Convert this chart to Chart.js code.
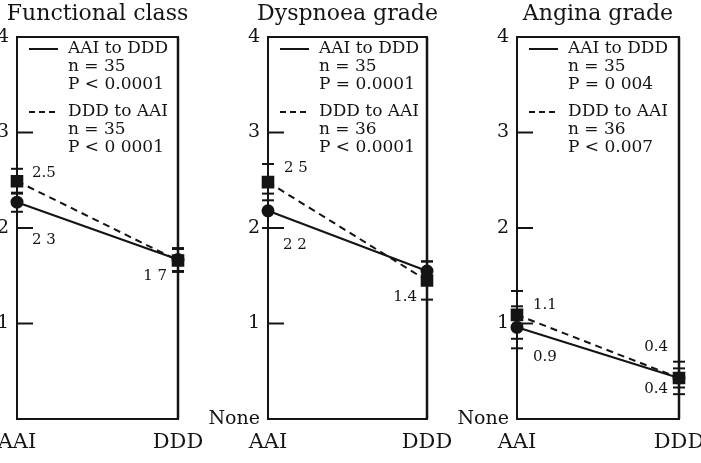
<!DOCTYPE html>
<html>
<head>
<meta charset="utf-8">
<script src="https://cdn.jsdelivr.net/npm/chart.js@4.4.0/dist/chart.umd.min.js"></script>
<style>
  html, body { margin: 0; padding: 0; background: #fff; }
  #wrap { position: relative; width: 701px; height: 463px; overflow: hidden; background: #fff; }
  #wrap canvas { position: absolute; top: 0; }
</style>
</head>
<body>
<div id="wrap">
  <canvas id="c0"></canvas>
  <canvas id="c1"></canvas>
  <canvas id="c2"></canvas>
</div>
<script>
const categories = ['AAI', 'DDD'];
const panelTitles = ['Functional class', 'Dyspnoea grade', 'Angina grade'];
const yTickLabels = [
    ['', '1', '2', '3', '4'],
    ['None', '1', '2', '3', '4'],
    ['None', '1', '2', '3', '4']
];
const seriesNames = ['AAI to DDD', 'DDD to AAI'];

// mean grade in each mode, one row per panel
const aaiToDdd = [[2.27, 1.67], [2.18, 1.55], [0.96, 0.43]];
const dddToAai = [[2.49, 1.66], [2.48, 1.45], [1.09, 0.43]];
// half length of the error bars
const aaiToDddErr = [[0.10, 0.12], [0.18, 0.10], [0.22, 0.10]];
const dddToAaiErr = [[0.13, 0.12], [0.19, 0.20], [0.25, 0.17]];

const aaiToDddStats = [['n = 35', 'P < 0.0001'], ['n = 35', 'P = 0.0001'], ['n = 35', 'P = 0 004']];
const dddToAaiStats = [['n = 35', 'P < 0 0001'], ['n = 36', 'P < 0.0001'], ['n = 36', 'P < 0.007']];

// numbers printed next to the points
const valueLabels = [
    ['2.5', '2 3', '1 7'],
    ['2 5', '2 2', '1.4'],
    ['1.1', '0.9', '0.4', '0.4']
];

// where those numbers sit: [category index, y value, x offset px]
const labelSpots = [
    [[0, 2.57, 15], [0, 1.87, 15], [1, 1.50, -11]],
    [[0, 2.63, 16], [0, 1.82, 15], [1, 1.28, -10]],
    [[0, 1.19, 16], [0, 0.65, 16], [1, 0.75, -11], [1, 0.31, -11]]
];

// plot box edges on the page
const plotLeft = [17, 268, 517];
const plotRight = [178, 427, 679];

const serif = '"DejaVu Serif", "Liberation Serif", serif';
const ink = '#141414';

function hline(ctx, x1, x2, y) {
    ctx.beginPath();
    ctx.moveTo(x1, y);
    ctx.lineTo(x2, y);
    ctx.stroke();
}

const decor = {
    id: 'decor',
    beforeDatasetsDraw(chart) {
        const p = chart.options.plugins.decor.panel;
        const ctx = chart.ctx, xs = chart.scales.x, ys = chart.scales.y;
        const a = chart.chartArea;
        ctx.save();
        ctx.strokeStyle = ink;
        ctx.lineWidth = 2;

        // ticks point into the box
        [1, 2, 3].forEach(v => hline(ctx, a.left, a.left + 16, ys.getPixelForValue(v)));

        // box
        ctx.strokeRect(a.left, a.top, a.right - a.left, a.bottom - a.top);
        ctx.lineWidth = 2.5;
        ctx.beginPath();
        ctx.moveTo(a.right, a.top);
        ctx.lineTo(a.right, a.bottom);
        ctx.stroke();

        // error bars
        ctx.lineWidth = 2;
        [[aaiToDdd, aaiToDddErr], [dddToAai, dddToAaiErr]].forEach(([vals, errs]) => {
            vals[p].forEach((v, i) => {
                const px = xs.getPixelForValue(i);
                const top = ys.getPixelForValue(v + errs[p][i]);
                const bot = ys.getPixelForValue(v - errs[p][i]);
                ctx.beginPath();
                ctx.moveTo(px, top);
                ctx.lineTo(px, bot);
                ctx.stroke();
                hline(ctx, px - 6, px + 6, top);
                hline(ctx, px - 6, px + 6, bot);
            });
        });
        ctx.restore();
    },
    afterDraw(chart) {
        const p = chart.options.plugins.decor.panel;
        const ctx = chart.ctx, xs = chart.scales.x, ys = chart.scales.y;
        const a = chart.chartArea;
        ctx.save();
        ctx.fillStyle = ink;
        ctx.strokeStyle = ink;

        // title
        ctx.font = '22px ' + serif;
        ctx.textAlign = 'center';
        ctx.textBaseline = 'middle';
        ctx.fillText(panelTitles[p], (a.left + a.right) / 2, 14);

        // legend
        ctx.font = '17px ' + serif;
        ctx.textAlign = 'left';
        const groups = [
            [seriesNames[0], aaiToDddStats[p], [], a.top + 12],
            [seriesNames[1], dddToAaiStats[p], [6, 4], a.top + 75]
        ];
        groups.forEach(([name, stats, dash, y0]) => {
            ctx.lineWidth = 2;
            ctx.setLineDash(dash);
            hline(ctx, a.left + 12, a.left + 41, y0);
            ctx.setLineDash([]);
            [name].concat(stats).forEach((t, k) => ctx.fillText(t, a.left + 51, y0 + k * 18));
        });

        // value labels
        ctx.font = '15px ' + serif;
        valueLabels[p].forEach((t, k) => {
            const [ci, v, dx] = labelSpots[p][k];
            ctx.textAlign = dx < 0 ? 'right' : 'left';
            ctx.fillText(t, xs.getPixelForValue(ci) + dx, ys.getPixelForValue(v));
        });
        ctx.restore();
    }
};

panelTitles.forEach((title, p) => {
    const cv = document.getElementById('c' + p);
    cv.width = plotRight[p] - plotLeft[p] + 100;
    cv.height = 463;
    cv.style.left = (plotLeft[p] - 60) + 'px';

    new Chart(cv, {
        type: 'line',
        data: {
            labels: categories,
            datasets: [
                {
                    label: seriesNames[0],
                    data: aaiToDdd[p],
                    borderColor: ink,
                    backgroundColor: ink,
                    borderWidth: 2,
                    pointStyle: 'circle',
                    pointRadius: 5.5,
                    clip: false
                },
                {
                    label: seriesNames[1],
                    data: dddToAai[p],
                    borderColor: ink,
                    backgroundColor: ink,
                    borderWidth: 2,
                    borderDash: [7, 5],
                    pointStyle: 'rect',
                    pointRadius: 7.5,
                    clip: false
                }
            ]
        },
        options: {
            responsive: false,
            animation: false,
            layout: { padding: { top: 37, right: 40, left: 0, bottom: 0 } },
            plugins: {
                legend: { display: false },
                tooltip: { enabled: false },
                decor: { panel: p }
            },
            scales: {
                x: {
                    type: 'category',
                    offset: false,
                    grid: { display: false, drawTicks: false },
                    border: { display: false },
                    ticks: {
                        color: ink,
                        font: { family: serif, size: 21 },
                        padding: 11,
                        maxRotation: 0,
                        autoSkip: false
                    },
                    afterFit: s => { s.height = 44; }
                },
                y: {
                    min: 0,
                    max: 4,
                    grid: { display: false, drawTicks: false },
                    border: { display: false },
                    ticks: {
                        stepSize: 1,
                        padding: 8,
                        color: ink,
                        font: { family: serif, size: 19 },
                        callback: v => yTickLabels[p][v]
                    },
                    afterFit: s => { s.width = 60; }
                }
            }
        },
        plugins: [decor]
    });
});
</script>
</body>
</html>
